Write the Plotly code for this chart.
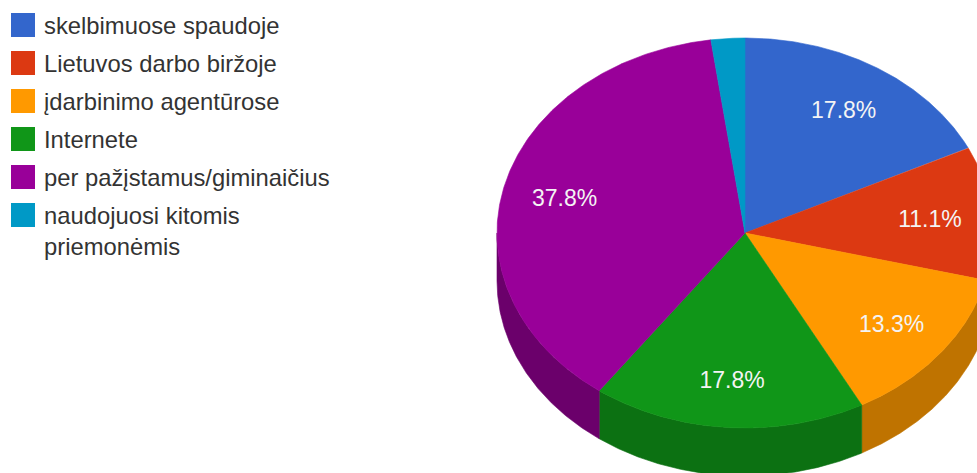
import numpy as np
import plotly.graph_objects as go

# Job-search channels and their shares (%)
categories = [
    "skelbimuose spaudoje",
    "Lietuvos darbo biržoje",
    "įdarbinimo agentūrose",
    "Internete",
    "per pažįstamus/giminaičius",
    "naudojuosi kitomis priemonėmis",
]
legend_labels = [
    "skelbimuose spaudoje",
    "Lietuvos darbo biržoje",
    "įdarbinimo agentūrose",
    "Internete",
    "per pažįstamus/giminaičius",
    "naudojuosi kitomis<br>priemonėmis",
]
shares = [17.8, 11.1, 13.3, 17.8, 37.8, 2.2]

top_colors = ["#3366cc", "#dc3912", "#ff9900", "#109618", "#990099", "#0099c6"]
side_colors = ["#24478f", "#9a280d", "#bf7300", "#0c7112", "#6b006b", "#006b8b"]

W, H = 977, 473
CX, CY = 745, 233        # centre of the pie's top face (px)
RX, RY = 248, 195        # ellipse radii of the tilted disc
DEPTH = 48               # thickness of the disc
LABEL_R = 0.75           # radial position of the percentage labels
LABEL_DY = 3             # small downward nudge of the label text
FONT = "Arial, 'Liberation Sans', sans-serif"


def rim(a0, a1, n=240):
    """Points on the top rim, angles in degrees clockwise from 12 o'clock."""
    t = np.radians(np.linspace(a0, a1, n))
    return CX + RX * np.sin(t), CY - RY * np.cos(t)


total = sum(shares)
bounds = np.concatenate([[0.0], np.cumsum(shares) / total * 360.0])

fig = go.Figure()

# Visible front wall of the disc (between 3 and 9 o'clock)
for i, col in enumerate(side_colors):
    a0, a1 = max(bounds[i], 90.0), min(bounds[i + 1], 270.0)
    if a0 >= a1:
        continue
    x, y = rim(a0, a1)
    xs = np.concatenate([x, x[::-1], x[:1]])
    ys = np.concatenate([y, y[::-1] + DEPTH, y[:1]])
    fig.add_trace(go.Scatter(
        x=xs, y=ys, mode="lines", fill="toself", fillcolor=col,
        line=dict(color=col, width=0.6), hoverinfo="skip", showlegend=False,
    ))

# Top face wedges
for i, col in enumerate(top_colors):
    x, y = rim(bounds[i], bounds[i + 1])
    xs = np.concatenate([[CX], x, [CX]])
    ys = np.concatenate([[CY], y, [CY]])
    fig.add_trace(go.Scatter(
        x=xs, y=ys, mode="lines", fill="toself", fillcolor=col,
        line=dict(color=col, width=0.6), hoverinfo="skip", showlegend=False,
    ))

# Percentage labels inside the larger slices
lx, ly, lt = [], [], []
for i, v in enumerate(shares):
    if v / total < 0.05:
        continue
    mid = np.radians((bounds[i] + bounds[i + 1]) / 2)
    lx.append(CX + LABEL_R * RX * np.sin(mid))
    ly.append(CY - LABEL_R * RY * np.cos(mid) + LABEL_DY)
    lt.append(f"{v / total * 100:.1f}%")
fig.add_trace(go.Scatter(
    x=lx, y=ly, mode="text", text=lt, textposition="middle center",
    textfont=dict(family=FONT, size=23, color="#f4f4f4"),
    hoverinfo="skip", showlegend=False,
))

# Legend: colour swatches and entry names
ROW0, ROW_STEP, LINE = 25, 38, 31
sw_y = [ROW0 + k * ROW_STEP for k in range(len(categories))]
fig.add_trace(go.Scatter(
    x=[23] * len(categories), y=sw_y, mode="markers",
    marker=dict(symbol="square", size=24, color=top_colors, line=dict(width=0)),
    hoverinfo="skip", showlegend=False,
))
txt_y = [yy + (lab.count("<br>") * LINE) / 2 for yy, lab in zip(sw_y, legend_labels)]
for yy, lab in zip(txt_y, legend_labels):
    fig.add_annotation(
        x=43, y=yy, xref="x", yref="y", text=lab, showarrow=False,
        xanchor="left", yanchor="middle", align="left", borderpad=0,
        font=dict(family=FONT, size=23.8, color="#333333"),
    )

fig.update_layout(
    width=W, height=H, margin=dict(l=0, r=0, t=0, b=0),
    paper_bgcolor="white", plot_bgcolor="white",
    xaxis=dict(range=[0, W], visible=False, fixedrange=True),
    yaxis=dict(range=[H, 0], visible=False, fixedrange=True),
    showlegend=False,
)

fig.write_html("out.html")
